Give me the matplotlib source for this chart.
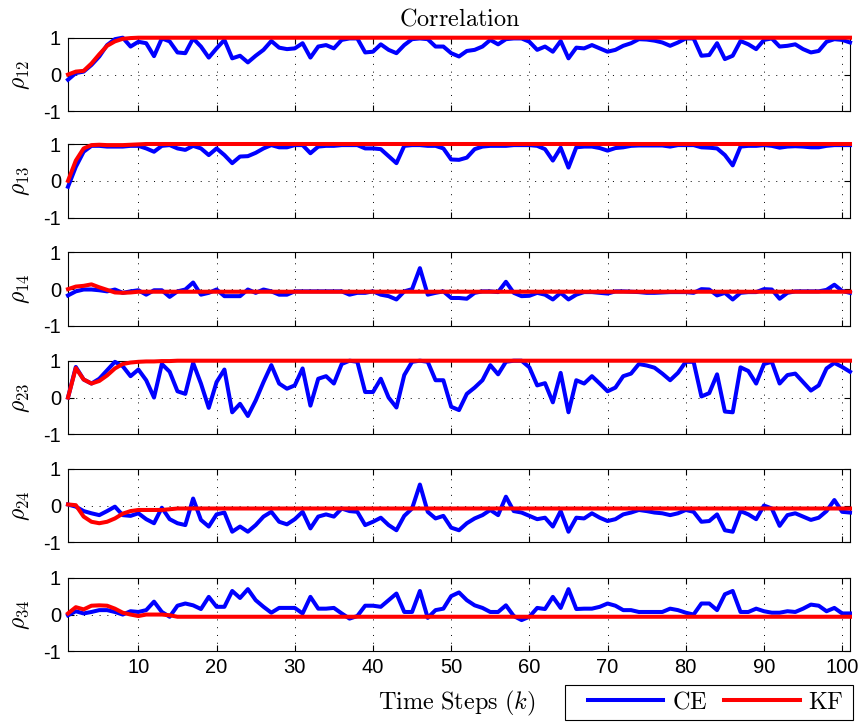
import numpy as np
import matplotlib
matplotlib.use('Agg')
import matplotlib.pyplot as plt
from matplotlib.patches import Rectangle

# fonts: sans for ticks, computer modern for the latex-looking text
plt.rcParams['font.family'] = 'Liberation Sans'
plt.rcParams['mathtext.fontset'] = 'cm'
plt.rcParams['axes.unicode_minus'] = False

steps = np.arange(1, 102)

# CE estimates (blue), k = 1..101
ce12 = [-0.14, 0.04, 0.08, 0.26, 0.49, 0.80, 0.96, 1.00, 0.76, 0.89,
        0.85, 0.50, 0.98, 0.90, 0.60, 0.58, 0.98, 0.76, 0.46, 0.71,
        0.94, 0.44, 0.51, 0.33, 0.51, 0.67, 0.91, 0.73, 0.69, 0.71,
        0.85, 0.46, 0.76, 0.80, 0.71, 0.94, 0.98, 0.98, 0.60, 0.62,
        0.82, 0.67, 0.58, 0.80, 0.96, 0.98, 0.96, 0.76, 0.76, 0.58,
        0.49, 0.64, 0.67, 0.76, 0.94, 0.82, 0.96, 0.98, 0.98, 0.89,
        0.67, 0.76, 0.62, 0.91, 0.44, 0.73, 0.71, 0.80, 0.71, 0.62,
        0.67, 0.78, 0.85, 0.96, 0.95, 0.92, 0.87, 0.78, 0.87, 0.98,
        0.98, 0.51, 0.53, 0.85, 0.42, 0.51, 0.91, 0.82, 0.69, 0.94,
        0.98, 0.76, 0.78, 0.82, 0.69, 0.60, 0.64, 0.89, 0.96, 0.94,
        0.87]
ce13 = [-0.16, 0.38, 0.79, 0.95, 0.95, 0.93, 0.93, 0.93, 0.95, 0.95,
        0.88, 0.79, 0.95, 0.97, 0.88, 0.84, 0.95, 0.88, 0.70, 0.88,
        0.70, 0.48, 0.66, 0.67, 0.76, 0.88, 0.97, 0.91, 0.91, 0.97,
        0.97, 0.75, 0.93, 0.95, 0.95, 0.97, 0.97, 0.97, 0.88, 0.88,
        0.86, 0.67, 0.48, 0.95, 0.97, 0.97, 0.95, 0.95, 0.88, 0.58,
        0.57, 0.63, 0.86, 0.93, 0.95, 0.95, 0.95, 0.97, 0.97, 0.97,
        0.95, 0.86, 0.55, 0.90, 0.36, 0.91, 0.93, 0.93, 0.89, 0.82,
        0.89, 0.91, 0.95, 0.96, 0.96, 0.96, 0.96, 0.93, 0.97, 0.97,
        0.97, 0.91, 0.90, 0.88, 0.70, 0.42, 0.93, 0.95, 0.95, 0.97,
        0.95, 0.90, 0.93, 0.94, 0.93, 0.91, 0.91, 0.95, 0.97, 0.97,
        0.97]
ce14 = [-0.17, -0.06, -0.01, -0.01, -0.03, -0.06, -0.01, -0.10, -0.06, -0.03,
        -0.15, -0.03, -0.03, -0.21, -0.06, -0.01, 0.18, -0.15, -0.10, -0.01,
        -0.19, -0.19, -0.19, -0.01, -0.10, -0.01, -0.06, -0.15, -0.15, -0.06,
        -0.06, -0.06, -0.06, -0.06, -0.06, -0.06, -0.15, -0.10, -0.10, -0.06,
        -0.15, -0.19, -0.28, -0.06, 0.00, 0.57, -0.15, -0.10, -0.06, -0.24,
        -0.24, -0.26, -0.10, -0.06, -0.06, -0.08, 0.20, -0.10, -0.19, -0.18,
        -0.10, -0.15, -0.28, -0.10, -0.28, -0.15, -0.08, -0.08, -0.10, -0.12,
        -0.06, -0.06, -0.07, -0.08, -0.10, -0.10, -0.09, -0.08, -0.08, -0.08,
        -0.10, 0.00, -0.01, -0.17, -0.10, -0.28, -0.10, -0.08, -0.08, 0.00,
        -0.01, -0.26, -0.10, -0.06, -0.06, -0.06, -0.06, -0.02, 0.12, -0.05,
        -0.10]
ce23 = [0.00, 0.83, 0.49, 0.38, 0.51, 0.74, 0.97, 0.85, 0.58, 0.76,
        0.47, 0.00, 0.91, 0.70, 0.17, 0.10, 0.94, 0.38, -0.28, 0.42,
        0.76, -0.40, -0.17, -0.50, -0.08, 0.42, 0.88, 0.38, 0.24, 0.33,
        0.79, -0.22, 0.51, 0.58, 0.38, 0.91, 1.00, 0.97, 0.15, 0.15,
        0.51, 0.00, -0.27, 0.61, 0.97, 1.00, 0.97, 0.47, 0.47, -0.25,
        -0.34, 0.10, 0.27, 0.47, 0.88, 0.63, 0.97, 1.00, 1.00, 0.82,
        0.33, 0.39, -0.13, 0.67, -0.40, 0.47, 0.38, 0.58, 0.38, 0.17,
        0.27, 0.58, 0.65, 0.91, 0.87, 0.81, 0.65, 0.47, 0.67, 0.97,
        0.97, 0.03, 0.12, 0.63, -0.38, -0.40, 0.82, 0.72, 0.38, 0.91,
        0.97, 0.38, 0.61, 0.65, 0.42, 0.19, 0.33, 0.79, 0.94, 0.83,
        0.70]
ce24 = [0.03, -0.03, -0.15, -0.21, -0.26, -0.15, -0.03, -0.26, -0.28, -0.21,
        -0.37, -0.48, -0.06, -0.37, -0.48, -0.53, 0.19, -0.39, -0.57, -0.24,
        -0.19, -0.71, -0.57, -0.71, -0.53, -0.30, -0.17, -0.44, -0.51, -0.37,
        -0.17, -0.62, -0.30, -0.24, -0.30, -0.08, -0.15, -0.17, -0.53, -0.44,
        -0.33, -0.53, -0.67, -0.28, -0.08, 0.57, -0.17, -0.35, -0.28, -0.60,
        -0.67, -0.48, -0.35, -0.26, -0.12, -0.26, 0.24, -0.15, -0.19, -0.28,
        -0.37, -0.33, -0.57, -0.15, -0.71, -0.33, -0.35, -0.21, -0.33, -0.42,
        -0.37, -0.24, -0.19, -0.12, -0.15, -0.19, -0.21, -0.26, -0.21, -0.12,
        -0.17, -0.44, -0.42, -0.24, -0.67, -0.71, -0.15, -0.24, -0.37, 0.00,
        -0.08, -0.55, -0.26, -0.21, -0.30, -0.39, -0.33, -0.15, 0.15, -0.17,
        -0.19]
ce34 = [-0.02, 0.09, 0.03, 0.07, 0.12, 0.12, 0.07, 0.00, 0.09, 0.07,
        0.12, 0.35, 0.07, -0.06, 0.24, 0.30, 0.25, 0.15, 0.48, 0.21,
        0.21, 0.64, 0.45, 0.69, 0.39, 0.21, 0.05, 0.18, 0.18, 0.18,
        0.03, 0.48, 0.16, 0.16, 0.18, 0.03, -0.11, -0.04, 0.24, 0.24,
        0.21, 0.39, 0.57, 0.07, 0.07, 0.64, -0.09, 0.12, 0.16, 0.50,
        0.60, 0.39, 0.25, 0.18, 0.07, 0.07, 0.25, -0.04, -0.15, -0.06,
        0.18, 0.15, 0.48, 0.18, 0.69, 0.15, 0.16, 0.16, 0.21, 0.30,
        0.24, 0.12, 0.12, 0.07, 0.07, 0.07, 0.07, 0.16, 0.12, 0.05,
        0.00, 0.30, 0.30, 0.12, 0.55, 0.64, 0.07, 0.07, 0.16, 0.09,
        0.05, 0.05, 0.09, 0.07, 0.16, 0.27, 0.24, 0.09, 0.18, 0.03,
        0.03]

# KF estimates (red)
kf12 = [0.00, 0.08, 0.10, 0.30, 0.55, 0.78, 0.90, 0.97, 0.99, 1.00,
        1.00, 1.00, 1.00, 1.00, 1.00, 1.00, 1.00, 1.00, 1.00, 1.00,
        1.00, 1.00, 1.00, 1.00, 1.00, 1.00, 1.00, 1.00, 1.00, 1.00,
        1.00, 1.00, 1.00, 1.00, 1.00, 1.00, 1.00, 1.00, 1.00, 1.00,
        1.00, 1.00, 1.00, 1.00, 1.00, 1.00, 1.00, 1.00, 1.00, 1.00,
        1.00, 1.00, 1.00, 1.00, 1.00, 1.00, 1.00, 1.00, 1.00, 1.00,
        1.00, 1.00, 1.00, 1.00, 1.00, 1.00, 1.00, 1.00, 1.00, 1.00,
        1.00, 1.00, 1.00, 1.00, 1.00, 1.00, 1.00, 1.00, 1.00, 1.00,
        1.00, 1.00, 1.00, 1.00, 1.00, 1.00, 1.00, 1.00, 1.00, 1.00,
        1.00, 1.00, 1.00, 1.00, 1.00, 1.00, 1.00, 1.00, 1.00, 1.00,
        1.00]
kf13 = [0.00, 0.55, 0.88, 0.97, 0.98, 0.97, 0.97, 0.97, 0.98, 0.99,
        1.00, 1.00, 1.00, 1.00, 1.00, 1.00, 1.00, 1.00, 1.00, 1.00,
        1.00, 1.00, 1.00, 1.00, 1.00, 1.00, 1.00, 1.00, 1.00, 1.00,
        1.00, 1.00, 1.00, 1.00, 1.00, 1.00, 1.00, 1.00, 1.00, 1.00,
        1.00, 1.00, 1.00, 1.00, 1.00, 1.00, 1.00, 1.00, 1.00, 1.00,
        1.00, 1.00, 1.00, 1.00, 1.00, 1.00, 1.00, 1.00, 1.00, 1.00,
        1.00, 1.00, 1.00, 1.00, 1.00, 1.00, 1.00, 1.00, 1.00, 1.00,
        1.00, 1.00, 1.00, 1.00, 1.00, 1.00, 1.00, 1.00, 1.00, 1.00,
        1.00, 1.00, 1.00, 1.00, 1.00, 1.00, 1.00, 1.00, 1.00, 1.00,
        1.00, 1.00, 1.00, 1.00, 1.00, 1.00, 1.00, 1.00, 1.00, 1.00,
        1.00]
kf14 = [0.00, 0.07, 0.09, 0.13, 0.05, -0.02, -0.09, -0.10, -0.09, -0.07,
        -0.07, -0.07, -0.07, -0.07, -0.07, -0.07, -0.07, -0.07, -0.07, -0.07,
        -0.07, -0.07, -0.07, -0.07, -0.07, -0.07, -0.07, -0.07, -0.07, -0.07,
        -0.07, -0.07, -0.07, -0.07, -0.07, -0.07, -0.07, -0.07, -0.07, -0.07,
        -0.07, -0.07, -0.07, -0.07, -0.07, -0.07, -0.07, -0.07, -0.07, -0.07,
        -0.07, -0.07, -0.07, -0.07, -0.07, -0.07, -0.07, -0.07, -0.07, -0.07,
        -0.07, -0.07, -0.07, -0.07, -0.07, -0.07, -0.07, -0.07, -0.07, -0.07,
        -0.07, -0.07, -0.07, -0.07, -0.07, -0.07, -0.07, -0.07, -0.07, -0.07,
        -0.07, -0.07, -0.07, -0.07, -0.07, -0.07, -0.07, -0.07, -0.07, -0.07,
        -0.07, -0.07, -0.07, -0.07, -0.07, -0.07, -0.07, -0.07, -0.07, -0.07,
        -0.07]
kf23 = [0.00, 0.80, 0.49, 0.38, 0.45, 0.60, 0.79, 0.91, 0.95, 0.97,
        0.98, 0.98, 0.99, 0.99, 1.00, 1.00, 1.00, 1.00, 1.00, 1.00,
        1.00, 1.00, 1.00, 1.00, 1.00, 1.00, 1.00, 1.00, 1.00, 1.00,
        1.00, 1.00, 1.00, 1.00, 1.00, 1.00, 1.00, 1.00, 1.00, 1.00,
        1.00, 1.00, 1.00, 1.00, 1.00, 1.00, 1.00, 1.00, 1.00, 1.00,
        1.00, 1.00, 1.00, 1.00, 1.00, 1.00, 1.00, 1.00, 1.00, 1.00,
        1.00, 1.00, 1.00, 1.00, 1.00, 1.00, 1.00, 1.00, 1.00, 1.00,
        1.00, 1.00, 1.00, 1.00, 1.00, 1.00, 1.00, 1.00, 1.00, 1.00,
        1.00, 1.00, 1.00, 1.00, 1.00, 1.00, 1.00, 1.00, 1.00, 1.00,
        1.00, 1.00, 1.00, 1.00, 1.00, 1.00, 1.00, 1.00, 1.00, 1.00,
        1.00]
kf24 = [0.03, 0.01, -0.30, -0.44, -0.48, -0.44, -0.35, -0.22, -0.15, -0.12,
        -0.12, -0.12, -0.12, -0.10, -0.08, -0.08, -0.08, -0.08, -0.08, -0.08,
        -0.08, -0.08, -0.08, -0.08, -0.08, -0.08, -0.08, -0.08, -0.08, -0.08,
        -0.08, -0.08, -0.08, -0.08, -0.08, -0.08, -0.08, -0.08, -0.08, -0.08,
        -0.08, -0.08, -0.08, -0.08, -0.08, -0.08, -0.08, -0.08, -0.08, -0.08,
        -0.08, -0.08, -0.08, -0.08, -0.08, -0.08, -0.08, -0.08, -0.08, -0.08,
        -0.08, -0.08, -0.08, -0.08, -0.08, -0.08, -0.08, -0.08, -0.08, -0.08,
        -0.08, -0.08, -0.08, -0.08, -0.08, -0.08, -0.08, -0.08, -0.08, -0.08,
        -0.08, -0.08, -0.08, -0.08, -0.08, -0.08, -0.08, -0.08, -0.08, -0.08,
        -0.08, -0.08, -0.08, -0.08, -0.08, -0.08, -0.08, -0.08, -0.08, -0.08,
        -0.08]
kf34 = [0.03, 0.20, 0.14, 0.24, 0.25, 0.24, 0.16, 0.05, 0.00, -0.04,
        0.00, 0.00, 0.00, -0.02, -0.06, -0.06, -0.06, -0.06, -0.06, -0.06,
        -0.06, -0.06, -0.06, -0.06, -0.06, -0.06, -0.06, -0.06, -0.06, -0.06,
        -0.06, -0.06, -0.06, -0.06, -0.06, -0.06, -0.06, -0.06, -0.06, -0.06,
        -0.06, -0.06, -0.06, -0.06, -0.06, -0.06, -0.06, -0.06, -0.06, -0.06,
        -0.06, -0.06, -0.06, -0.06, -0.06, -0.06, -0.06, -0.06, -0.06, -0.06,
        -0.06, -0.06, -0.06, -0.06, -0.06, -0.06, -0.06, -0.06, -0.06, -0.06,
        -0.06, -0.06, -0.06, -0.06, -0.06, -0.06, -0.06, -0.06, -0.06, -0.06,
        -0.06, -0.06, -0.06, -0.06, -0.06, -0.06, -0.06, -0.06, -0.06, -0.06,
        -0.06, -0.06, -0.06, -0.06, -0.06, -0.06, -0.06, -0.06, -0.06, -0.06,
        -0.06]

ylabels = [r'$\rho_{12}$', r'$\rho_{13}$', r'$\rho_{14}$',
           r'$\rho_{23}$', r'$\rho_{24}$', r'$\rho_{34}$']
ce_all = [ce12, ce13, ce14, ce23, ce24, ce34]
kf_all = [kf12, kf13, kf14, kf23, kf24, kf34]

W, H = 868, 723
fig = plt.figure(figsize=(W / 100, H / 100), dpi=100)

# panel placement in pixels (from the reference)
x0, x1 = 68, 850
tops = [37.7, 144, 252.3, 360.7, 468.7, 577.7]
ph = 73.7

for i in range(6):
    ax = fig.add_axes([x0 / W, 1 - (tops[i] + ph) / H, (x1 - x0) / W, ph / H])
    l1, = ax.plot(steps, ce_all[i], color=(0, 0, 1), lw=2.9, clip_on=False, zorder=3)
    l2, = ax.plot(steps, kf_all[i], color=(1, 0, 0), lw=2.9, clip_on=False, zorder=4)
    ax.set_xlim(1, 101)
    ax.set_ylim(-1, 1)
    ax.set_xticks(range(10, 101, 10))
    ax.set_yticks([-1, 0, 1])
    ax.tick_params(direction='in', top=True, right=True, length=4, width=0.8,
                   labelsize=14.5, pad=5)
    ax.grid(True, linestyle=(0, (1, 7)), color='k', lw=0.7)
    for s in ax.spines.values():
        s.set_linewidth(0.8)
    if i < 5:
        ax.set_xticklabels([])
    ax.set_ylabel(ylabels[i], fontsize=17)
    ax.yaxis.set_label_coords(-0.046, 0.5)

fig.text(460 / W, 1 - 19 / H, r'$\mathrm{Correlation}$', ha='center', va='center', fontsize=17.5)
fig.text(457 / W, 1 - 703 / H, r'$\mathrm{Time\ Steps\ }(k)$', ha='center', va='center', fontsize=17.5)

# legend box drawn separately so its size follows the reference
fig.patches.append(Rectangle((565 / W, 1 - 720 / H), 288 / W, 35 / H, transform=fig.transFigure,
                             fill=False, ec='k', lw=0.8))
leg = fig.legend([l1, l2], [r'$\mathrm{CE}$', r'$\mathrm{KF}$'], loc='center left',
                 bbox_to_anchor=(588 / W, 1 - 702.5 / H), ncol=2, fontsize=17.5,
                 frameon=False, handlelength=3.1, handletextpad=0.35, columnspacing=0.7,
                 borderaxespad=0, borderpad=0)

fig.savefig('out.png', dpi=100)
